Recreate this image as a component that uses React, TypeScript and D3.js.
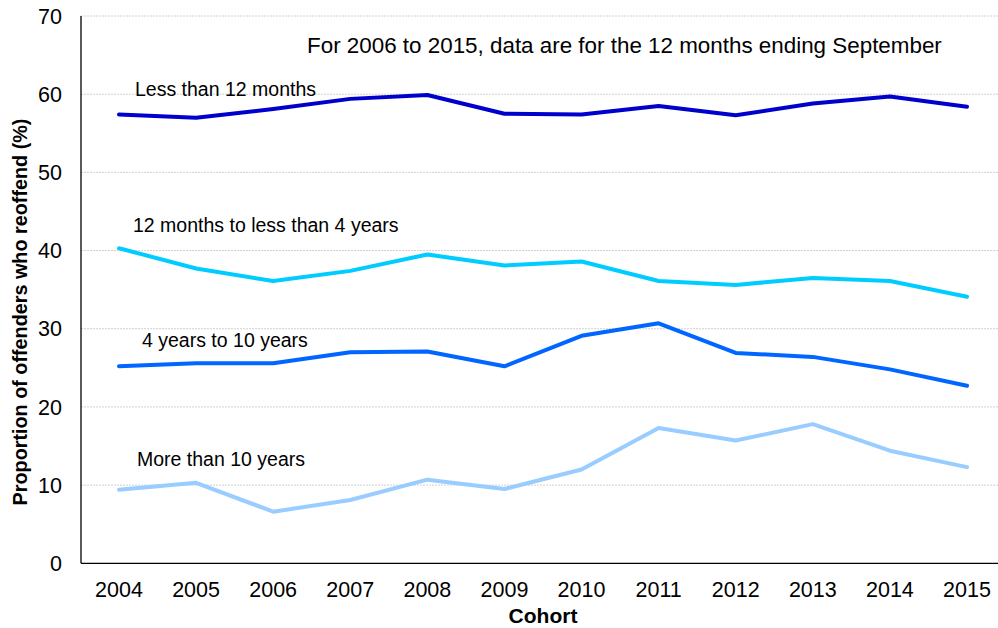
import React from "react";
import * as d3 from "d3";

const years = ["2004","2005","2006","2007","2008","2009","2010","2011","2012","2013","2014","2015"];
const lessThan12Months = [57.4, 57.0, 58.1, 59.4, 59.9, 57.5, 57.4, 58.5, 57.3, 58.8, 59.7, 58.4];
const months12To4Years = [40.3, 37.7, 36.1, 37.4, 39.5, 38.1, 38.6, 36.1, 35.6, 36.5, 36.1, 34.1];
const years4To10 = [25.2, 25.6, 25.6, 27.0, 27.1, 25.2, 29.1, 30.7, 26.9, 26.4, 24.8, 22.7];
const moreThan10Years = [9.4, 10.3, 6.6, 8.1, 10.7, 9.5, 12.0, 17.3, 15.7, 17.8, 14.4, 12.3];
const yTicks = [0, 10, 20, 30, 40, 50, 60, 70];

const seriesNames = ["Less than 12 months", "12 months to less than 4 years", "4 years to 10 years", "More than 10 years"];
const seriesValues = [lessThan12Months, months12To4Years, years4To10, moreThan10Years];
const seriesColors = ["#0000cc", "#00ccff", "#0066ff", "#99ccff"];
const labelPos = [
  { x: 135, y: 96 },
  { x: 133, y: 232 },
  { x: 142, y: 347 },
  { x: 137, y: 466 },
];

const W = 998, H = 628;
const left = 81, top = 16, bottom = 563.3, right = 998;

export default function App() {
  const x = d3.scalePoint<string>().domain(years).range([119, 967]);
  const y = d3.scaleLinear().domain([0, 70]).range([bottom, top]);
  const line = d3.line<number>().x((_, i) => x(years[i])!).y((d) => y(d));
  const font = "'Liberation Sans', Arial, sans-serif";
  return (
    <div style={{ position: "fixed", left: 0, top: 0 }}>
      <svg width={W} height={H} style={{ display: "block", background: "#fff" }} fontFamily={font}>
        {yTicks.filter((t) => t > 0).map((t) => (
          <line key={t} x1={left} x2={right} y1={y(t)} y2={y(t)} stroke="#d0d0d0" strokeWidth={1} strokeDasharray="2,1" />
        ))}
        <line x1={left} x2={left} y1={top} y2={bottom} stroke="#000" strokeWidth={1.3} />
        <line x1={left} x2={right} y1={bottom} y2={bottom} stroke="#000" strokeWidth={1.3} />
        {yTicks.map((t) => (
          <text key={t} x={62} y={y(t)} dy="0.36em" textAnchor="end" fontSize={21.5} fill="#000">{t}</text>
        ))}
        {years.map((yr) => (
          <text key={yr} x={x(yr)} y={597} textAnchor="middle" fontSize={21.5} fill="#000">{yr}</text>
        ))}
        <text x={543} y={623} textAnchor="middle" fontSize={21} fontWeight="bold" fill="#000">Cohort</text>
        <text transform={`translate(27,312) rotate(-90)`} textAnchor="middle" fontSize={19.8} fontWeight="bold" fill="#000">
          Proportion of offenders who reoffend (%)
        </text>
        {seriesValues.map((vals, i) => (
          <path key={i} d={line(vals)!} fill="none" stroke={seriesColors[i]} strokeWidth={4} strokeLinejoin="round" strokeLinecap="round" />
        ))}
        {seriesNames.map((n, i) => (
          <text key={n} x={labelPos[i].x} y={labelPos[i].y} fontSize={19.5} fill="#000">{n}</text>
        ))}
        <text x={307} y={53} fontSize={22.4} fill="#000">For 2006 to 2015, data are for the 12 months ending September</text>
      </svg>
    </div>
  );
}
